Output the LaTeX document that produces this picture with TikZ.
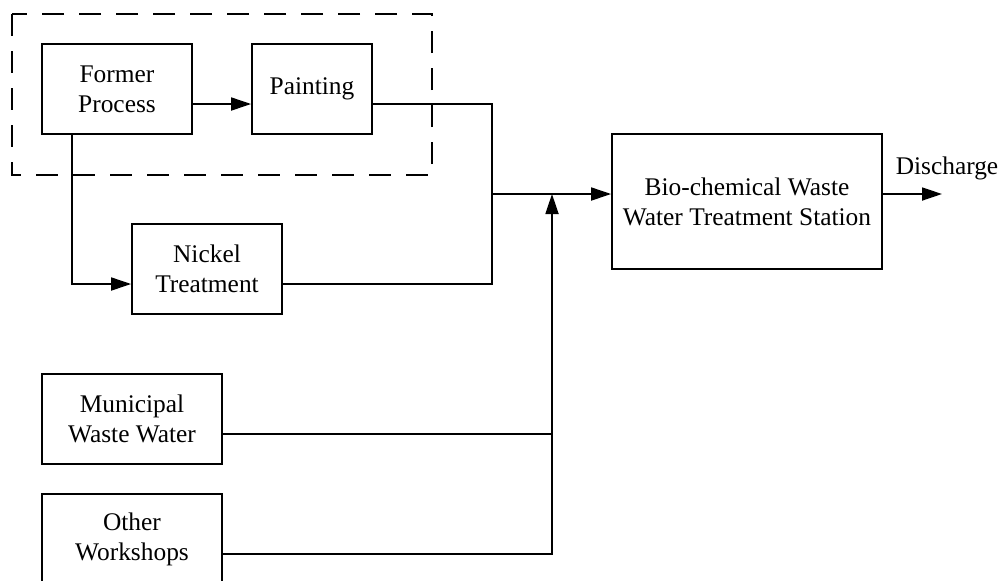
\documentclass[tikz,border=0pt]{standalone}
\usepackage{fontspec}
\setmainfont{Liberation Serif}
\usetikzlibrary{arrows.meta}
\begin{document}
\begin{tikzpicture}[x=0.5pt,y=-0.5pt,line width=0.9pt,
  blk/.style={draw,rectangle,inner sep=0pt,align=center,
    font=\fontsize{12.7}{15}\selectfont},
  lbl/.style={inner sep=0pt,font=\fontsize{12.7}{15}\selectfont},
  arr/.style={-{Triangle[length=10pt,width=6.5pt]}},
  grp/.style={dash pattern=on 11pt off 7.5pt}]
\useasboundingbox (0,0) rectangle (1002,580);

% dashed group around the first two stages
\draw[grp] (12,14) rectangle (432,175);

% process boxes
\node[blk,minimum width=75pt,minimum height=45pt] (former)   at (117,89)  {Former\\Process};
\node[blk,minimum width=60pt,minimum height=45pt] (paint)    at (312,89)  {Painting};
\node[blk,minimum width=75pt,minimum height=45pt] (nickel)   at (207,269) {Nickel\\Treatment};
\node[blk,minimum width=135pt,minimum height=67.5pt] (bio)   at (747,201.5) {Bio-chemical Waste\\Water Treatment Station};
\node[blk,minimum width=90pt,minimum height=45pt] (muni)     at (132,419) {Municipal\\Waste Water};
\node[blk,minimum width=90pt,minimum height=45pt] (other)    at (132,539) {Other\\Workshops};
\node[lbl] (dis) at (947,168) {Discharge};

% routing points
\coordinate (rA) at (0,104);
\coordinate (rB) at (0,284);
\coordinate (rM) at (0,194);
\coordinate (cR) at (492,0);
\coordinate (cV) at (552,0);
\coordinate (out) at (942,194);

% connectors
\draw[arr] (former.east|-rA) -- (paint.west|-rA);
\draw[arr] (72,0|-former.south) -- (72,0|-rB) -- (nickel.west|-rB);
\draw (paint.east|-rA) -- (cR|-rA) -- (cR|-rB) -- (nickel.east|-rB);
\draw[arr] (cR|-rM) -- (bio.west|-rM);
\draw (muni.east|-0,434) -- (cV|-0,434);
\draw[arr] (other.east|-0,554) -- (cV|-0,554) -- (cV|-rM);
\draw[arr] (bio.east|-rM) -- (out);
\end{tikzpicture}
\end{document}
